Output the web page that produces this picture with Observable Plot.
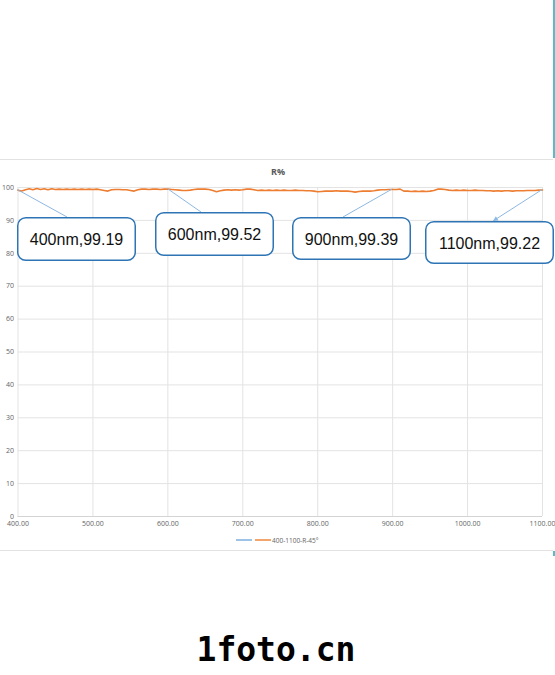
<!DOCTYPE html>
<html>
<head>
<meta charset="utf-8">
<script src="https://cdn.jsdelivr.net/npm/d3@7"></script>
<script src="https://cdn.jsdelivr.net/npm/@observablehq/plot@0.6"></script>
<style>
html, body { margin: 0; padding: 0; background: #fff; }
#page { position: relative; width: 555px; height: 675px; overflow: hidden; background: #fff; }
#chart { position: absolute; left: 0; top: 159px; }
#overlay { position: absolute; left: 0; top: 0; pointer-events: none; }
</style>
</head>
<body>
<div id="page">
  <div id="chart"></div>
</div>
<script>
// ---- data ----
const chartTitle = "R%";
const seriesName = "400-1100-R-45°";
const xTicks = [400, 500, 600, 700, 800, 900, 1000, 1100];
const yTicks = [0, 10, 20, 30, 40, 50, 60, 70, 80, 90, 100];

const wavelengths = [
  400, 405, 410, 415, 420, 425, 430, 435, 440, 445,
  450, 455, 460, 465, 470, 475, 480, 485, 490, 495,
  500, 505, 510, 515, 520, 525, 530, 535, 540, 545,
  550, 555, 560, 565, 570, 575, 580, 585, 590, 595,
  600, 605, 610, 615, 620, 625, 630, 635, 640, 645,
  650, 655, 660, 665, 670, 675, 680, 685, 690, 695,
  700, 705, 710, 715, 720, 725, 730, 735, 740, 745,
  750, 755, 760, 765, 770, 775, 780, 785, 790, 795,
  800, 805, 810, 815, 820, 825, 830, 835, 840, 845,
  850, 855, 860, 865, 870, 875, 880, 885, 890, 895,
  900, 905, 910, 915, 920, 925, 930, 935, 940, 945,
  950, 955, 960, 965, 970, 975, 980, 985, 990, 995,
  1000, 1005, 1010, 1015, 1020, 1025, 1030, 1035, 1040, 1045,
  1050, 1055, 1060, 1065, 1070, 1075, 1080, 1085, 1090, 1095,
  1100
];
const reflectance = [
  99.19, 98.9, 99.3, 99.6, 99.3, 99.7, 99.4, 99.6, 99.3, 99.6,
  99.4, 99.5, 99.4, 99.5, 99.4, 99.5, 99.4, 99.5, 99.4, 99.5,
  99.4, 99.5, 99.3, 99.1, 98.9, 99.3, 99.4, 99.4, 99.3, 99.3,
  99.1, 98.9, 99.3, 99.5, 99.5, 99.4, 99.5, 99.5, 99.4, 99.5,
  99.52, 99.4, 99.3, 99.2, 99.1, 99.1, 99.2, 99.4, 99.5, 99.5,
  99.5, 99.4, 99.1, 98.7, 99.0, 99.2, 99.3, 99.2, 99.3, 99.2,
  99.3, 99.5, 99.5, 99.3, 99.1, 99.2, 99.1, 99.2, 99.1, 99.2,
  99.1, 99.2, 99.1, 99.1, 99.2, 99.1, 99.1, 99.0, 99.0, 98.9,
  98.7, 98.8, 98.9, 98.9, 98.9, 99.0, 98.9, 98.9, 98.9, 98.8,
  98.6, 98.8, 98.9, 98.9, 98.9, 99.0, 99.2, 99.3, 99.3, 99.4,
  99.39, 99.4, 99.5, 98.9, 98.9, 98.8, 98.9, 98.8, 98.9, 98.8,
  98.9, 99.1, 99.5, 99.5, 99.4, 99.2, 99.1, 99.2, 99.1, 99.2,
  99.1, 99.1, 99.2, 99.1, 99.1, 99.0, 99.0, 98.9, 99.0, 98.9,
  99.0, 99.0, 98.9, 99.0, 99.0, 99.0, 99.1, 99.1, 99.1, 99.2,
  99.22
];

// annotated points
const calloutWavelengths = [400, 600, 900, 1100];
const calloutValues = [99.19, 99.52, 99.39, 99.22];

// ---- layout (page pixels) ----
const calloutBoxes = [
  { left: 17,  top: 217, w: 119, h: 44, ex: 67,  ey: 217, arrow: false },
  { left: 155, top: 212, w: 119, h: 44, ex: 201, ey: 212, arrow: false },
  { left: 292, top: 217, w: 119, h: 43, ex: 343, ey: 217, arrow: false },
  { left: 425, top: 221, w: 129, h: 43, ex: 493, ey: 221, arrow: true }
];

const data = wavelengths.map((wl, i) => ({ wl, r: reflectance[i] }));
const chartTop = 159;
const tickFont = "'Open Sans', 'Liberation Sans', sans-serif";

const chart = Plot.plot({
  width: 555,
  height: 391,
  marginLeft: 17.5,
  marginRight: 13,
  marginTop: 28,
  marginBottom: 34,
  style: { background: "transparent", fontFamily: tickFont, fontSize: "7px", color: "#646464", overflow: "visible" },
  x: { domain: [400, 1100], label: null },
  y: { domain: [0, 100], label: null },
  marks: [
    Plot.gridX(xTicks, { stroke: "#e3e3e3", strokeOpacity: 1 }),
    Plot.gridY(yTicks, { stroke: "#e3e3e3", strokeOpacity: 1 }),
    Plot.ruleY([0], { stroke: "#d4d4d4" }),
    Plot.axisX(xTicks, { tickSize: 0, tickPadding: 5, tickFormat: d3.format(".2f"), label: null }),
    Plot.axisY(yTicks, { tickSize: 0, tickPadding: 4, label: null }),
    Plot.line(data, { x: "wl", y: "r", stroke: "#ED7D31", strokeWidth: 1.6, curve: "linear" })
  ]
});
document.getElementById("chart").appendChild(chart);

const xs = chart.scale("x");
const ys = chart.scale("y");

// ---- overlay: frame lines, title, legend, callouts, watermark ----
const svg = d3.select("#page").append("svg")
  .attr("id", "overlay")
  .attr("width", 555).attr("height", 675);

// frame lines
svg.append("line").attr("x1", 0).attr("x2", 553).attr("y1", 159.5).attr("y2", 159.5)
  .attr("stroke", "#e2e2e2").attr("stroke-width", 1);
svg.append("line").attr("x1", 0).attr("x2", 553).attr("y1", 550.5).attr("y2", 550.5)
  .attr("stroke", "#e2e2e2").attr("stroke-width", 1);
svg.append("line").attr("x1", 554).attr("x2", 554).attr("y1", 0).attr("y2", 158)
  .attr("stroke", "#52bfc6").attr("stroke-width", 2);
svg.append("line").attr("x1", 554).attr("x2", 554).attr("y1", 551).attr("y2", 556)
  .attr("stroke", "#52bfc6").attr("stroke-width", 2);

// title
svg.append("text").attr("x", 278).attr("y", 175).attr("text-anchor", "middle")
  .attr("font-family", "'Open Sans', 'Liberation Sans', sans-serif").attr("font-weight", "bold")
  .attr("font-size", 9).attr("fill", "#595959").text(chartTitle);

// legend
svg.append("line").attr("x1", 236).attr("x2", 252).attr("y1", 540).attr("y2", 540)
  .attr("stroke", "#9dc3e6").attr("stroke-width", 2);
svg.append("line").attr("x1", 255).attr("x2", 271).attr("y1", 540).attr("y2", 540)
  .attr("stroke", "#f4a56e").attr("stroke-width", 2);
svg.append("text").attr("x", 272).attr("y", 542.5)
  .attr("font-family", tickFont).attr("font-size", 6.5).attr("fill", "#646464").text(seriesName);

// callouts
calloutWavelengths.forEach((wl, i) => {
  const v = calloutValues[i];
  const b = calloutBoxes[i];
  const px = xs.apply(wl);
  const py = chartTop + ys.apply(v);
  svg.append("line").attr("x1", px).attr("y1", py).attr("x2", b.ex).attr("y2", b.ey)
    .attr("stroke", "#8db8e2").attr("stroke-width", 1);
  if (b.arrow) {
    const ang = Math.atan2(b.ey - py, b.ex - px);
    const L = 5, W = 2.5;
    const bx = b.ex - L * Math.cos(ang), by = b.ey - L * Math.sin(ang);
    const nx = -Math.sin(ang) * W, ny = Math.cos(ang) * W;
    svg.append("path")
      .attr("d", `M${b.ex},${b.ey}L${bx + nx},${by + ny}L${bx - nx},${by - ny}Z`)
      .attr("fill", "#8db8e2");
  }
  svg.append("rect").attr("x", b.left + 0.75).attr("y", b.top + 0.75)
    .attr("width", b.w - 1.5).attr("height", b.h - 1.5)
    .attr("rx", 8).attr("ry", 8)
    .attr("fill", "#fff").attr("stroke", "#2E75B6").attr("stroke-width", 1.5);
  svg.append("text").attr("x", b.left + b.w / 2).attr("y", b.top + b.h / 2 + 6)
    .attr("text-anchor", "middle")
    .attr("font-family", "'Liberation Sans', Arial, sans-serif").attr("font-size", 16)
    .attr("fill", "#111").text(`${wl}nm,${v.toFixed(2)}`);
});

// watermark
svg.append("text").attr("x", 276).attr("y", 661).attr("text-anchor", "middle")
  .attr("font-family", "'DejaVu Sans Mono', 'Liberation Mono', monospace").attr("font-weight", "bold")
  .attr("font-size", 33).attr("fill", "#000").text("1foto.cn");
</script>
</body>
</html>
